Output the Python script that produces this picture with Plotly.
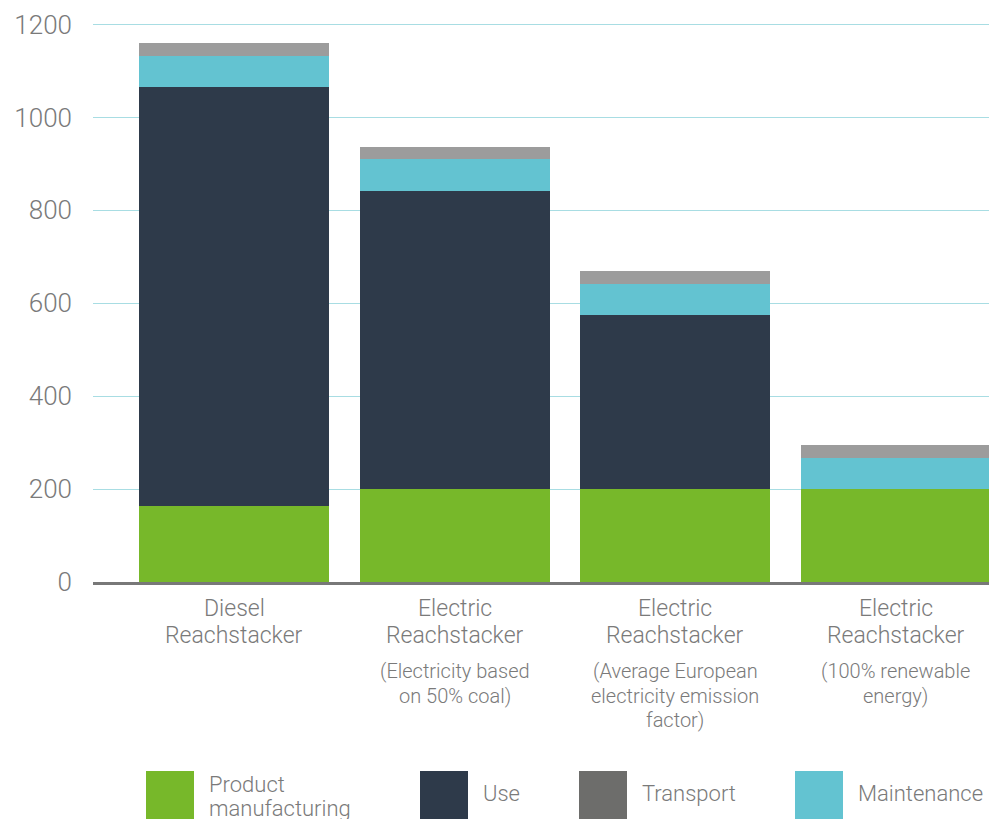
import plotly.graph_objects as go

# ---- data ----
categories = ["diesel", "electric_coal", "electric_eu", "electric_renewable"]
label_main = [["Diesel", "Reachstacker"],
              ["Electric", "Reachstacker"],
              ["Electric", "Reachstacker"],
              ["Electric", "Reachstacker"]]
label_sub = [[],
             ["(Electricity based", "on 50% coal)"],
             ["(Average European", "electricity emission", "factor)"],
             ["(100% renewable", "energy)"]]

manufacturing = [163, 200, 200, 200]
use = [902, 641, 375, 0]
maintenance = [67, 69, 66, 67]
transport = [28, 27, 28, 28]

y_ticks = [0, 200, 400, 600, 800, 1000, 1200]

series = [
    ("Product manufacturing", manufacturing, "#77b82a"),
    ("Use", use, "#2e3a4a"),
    ("Maintenance", maintenance, "#63c3d1"),
    ("Transport", transport, "#9c9c9c"),
]
legend_order = ["Product manufacturing", "Use", "Transport", "Maintenance"]
legend_colors = {"Product manufacturing": "#77b82a", "Use": "#2e3a4a",
                 "Transport": "#6d6d6b", "Maintenance": "#63c3d1"}

# ---- layout geometry ----
W, H = 989, 819
L, R, T, B = 93, 0, 10, 237
PW = W - L - R
PB = H - B          # pixel y of plot bottom (582)
PH = PB - T

def px_x(x):
    return (x - L) / PW

def px_y(y):
    return (PB - y) / PH

TEXT = "#7a7a7a"
FONT = "Roboto"

fig = go.Figure()
for name, vals, col in series:
    fig.add_trace(go.Bar(x=categories, y=vals, name=name,
                         marker=dict(color=col, line=dict(width=0)),
                         showlegend=False))

annotations = []
# category labels
for cat, mains, subs in zip(categories, label_main, label_sub):
    for i, line in enumerate(mains):
        annotations.append(dict(x=cat, xref="x", y=px_y(608 + 26.5 * i), yref="paper",
                                text=line, showarrow=False, xanchor="center",
                                yanchor="middle", height=26,
                                font=dict(family=FONT, size=23, color=TEXT, weight=300)))
    for i, line in enumerate(subs):
        annotations.append(dict(x=cat, xref="x", y=px_y(671 + 24.5 * i), yref="paper",
                                text=line, showarrow=False, xanchor="center",
                                yanchor="middle", height=24,
                                font=dict(family=FONT, size=20, color=TEXT, weight=300)))

# custom legend
shapes = []
legend_swatch_x = [146, 420, 579, 795]
legend_text_x = [207, 481, 640, 856]
for name, sx, tx in zip(legend_order, legend_swatch_x, legend_text_x):
    shapes.append(dict(type="rect", xref="paper", yref="paper",
                       x0=px_x(sx), x1=px_x(sx + 48), y0=px_y(830), y1=px_y(771),
                       fillcolor=legend_colors[name], line=dict(width=0), layer="above"))
    if name == "Product manufacturing":
        for i, part in enumerate(["Product", "manufacturing"]):
            annotations.append(dict(x=px_x(tx), xref="paper", y=px_y(784 + 24 * i),
                                    yref="paper", text=part, showarrow=False,
                                    xanchor="left", yanchor="middle", height=24,
                                    font=dict(family=FONT, size=22, color=TEXT, weight=300)))
    else:
        annotations.append(dict(x=px_x(tx), xref="paper", y=px_y(793), yref="paper",
                                text=name, showarrow=False, xanchor="left",
                                yanchor="middle",
                                font=dict(family=FONT, size=22, color=TEXT, weight=300)))

ymax = 1200 * (PB - T) / (PB - 24.5)

fig.update_layout(
    width=W, height=H,
    margin=dict(l=L, r=R, t=T, b=B, pad=0),
    barmode="stack",
    bargap=0.138,
    plot_bgcolor="white",
    paper_bgcolor="white",
    showlegend=False,
    annotations=annotations,
    shapes=shapes,
    xaxis=dict(type="category", range=[-0.64, 3.424], showticklabels=False,
               showgrid=False, zeroline=False, showline=True,
               linecolor="#787878", linewidth=2.5, fixedrange=True),
    yaxis=dict(range=[0, ymax], tickvals=y_ticks, ticktext=[str(v) for v in y_ticks],
               showgrid=True, gridcolor="#a8dde3", gridwidth=1,
               zeroline=False, showline=False, ticks="",
               ticklabelstandoff=20,
               tickfont=dict(family=FONT, size=26, color=TEXT, weight=300),
               fixedrange=True),
)

fig.write_html(
    "out.html",
    config={"displayModeBar": False},
    post_script="document.body.style.margin='0';document.documentElement.style.overflow='hidden';document.body.style.overflow='hidden';",
)
